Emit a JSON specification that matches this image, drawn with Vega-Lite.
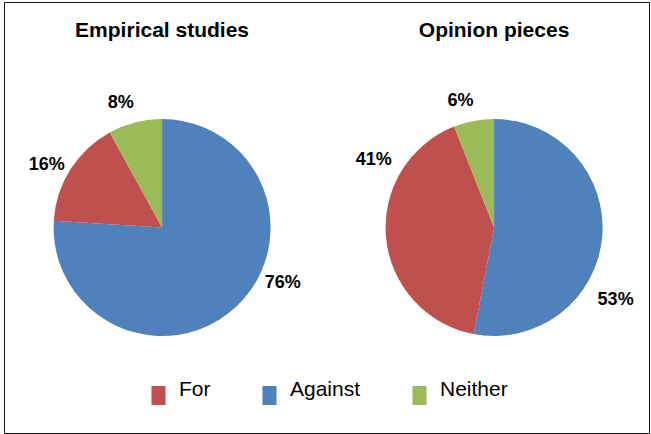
{
  "$schema": "https://vega.github.io/schema/vega-lite/v6.json",
  "width": 651,
  "height": 434,
  "autosize": {"type": "fit", "contains": "padding"},
  "padding": {"left": 4, "top": 2, "right": 2, "bottom": 1},
  "background": "white",
  "config": {
    "view": {"stroke": "#111111", "strokeWidth": 1},
    "font": "Liberation Sans"
  },
  "encoding": {
    "x": {
      "field": "chart",
      "type": "nominal",
      "scale": {"type": "point", "domain": ["Empirical studies", "Opinion pieces"], "padding": 0.4714, "align": 0.505},
      "axis": null
    }
  },
  "layer": [
    {
      "data": {"values": [{"chart": "Empirical studies"}, {"chart": "Opinion pieces"}]},
      "mark": {"type": "text", "font": "Liberation Sans", "fontWeight": "bold", "fontSize": 21, "baseline": "alphabetic", "align": "center", "color": "#000000"},
      "encoding": {
        "y": {"value": 35},
        "text": {"field": "chart", "type": "nominal"}
      }
    },
    {
      "data": {
        "values": [
          {"chart": "Empirical studies", "cat": "Against", "value": 0.76},
          {"chart": "Empirical studies", "cat": "For", "value": 0.16},
          {"chart": "Empirical studies", "cat": "Neither", "value": 0.08},
          {"chart": "Opinion pieces", "cat": "Against", "value": 0.53},
          {"chart": "Opinion pieces", "cat": "For", "value": 0.41},
          {"chart": "Opinion pieces", "cat": "Neither", "value": 0.06}
        ]
      },
      "transform": [
        {"stack": "value", "groupby": ["chart"], "sort": [{"field": "cat", "order": "ascending"}], "as": ["v0", "v1"], "offset": "normalize"},
        {"calculate": "(datum.v0 + datum.v1) / 2", "as": "mid"}
      ],
      "encoding": {
        "y": {"value": 225.5}
      },
      "layer": [
        {
          "mark": {"type": "arc", "radius": 108.5},
          "encoding": {
            "theta": {"field": "v0", "type": "quantitative", "stack": null, "scale": {"domain": [0, 1], "range": [0, 6.283185307179586]}},
            "theta2": {"field": "v1"},
            "color": {
              "field": "cat",
              "type": "nominal",
              "scale": {"domain": ["For", "Against", "Neither"], "range": ["#C0504D", "#4F81BD", "#9BBB59"]},
              "legend": {
                "title": null,
                "orient": "none",
                "legendX": 144,
                "legendY": 383,
                "direction": "horizontal",
                "padding": 0,
                "symbolType": "M-0.74,-1H0.74V1H-0.74Z",
                "symbolSize": 361,
                "symbolStrokeWidth": 0,
                "labelFont": "Liberation Sans",
                "labelFontSize": 21,
                "labelColor": "#000000",
                "labelBaseline": "alphabetic",
                "labelOffset": 10,
                "columnPadding": 48,
                "labelLimit": 200
              }
            }
          }
        },
        {
          "transform": [{"filter": "datum.cat === 'Neither' || (datum.chart === 'Empirical studies' && datum.cat === 'For')"}],
          "mark": {"type": "text", "radius": 131, "thetaOffset": -0.07, "font": "Liberation Sans", "fontWeight": "bold", "fontSize": 18, "align": "center", "baseline": "middle", "color": "#000000"},
          "encoding": {
            "theta": {"field": "mid", "type": "quantitative", "stack": null, "scale": {"domain": [0, 1], "range": [0, 6.283185307179586]}},
            "text": {"field": "value", "type": "quantitative", "format": ".0%"}
          }
        },
        {
          "transform": [{"filter": "datum.chart === 'Empirical studies' && datum.cat === 'Against'"}],
          "mark": {"type": "text", "radius": 133, "thetaOffset": -0.384, "font": "Liberation Sans", "fontWeight": "bold", "fontSize": 18, "align": "center", "baseline": "middle", "color": "#000000"},
          "encoding": {
            "theta": {"field": "mid", "type": "quantitative", "stack": null, "scale": {"domain": [0, 1], "range": [0, 6.283185307179586]}},
            "text": {"field": "value", "type": "quantitative", "format": ".0%"}
          }
        },
        {
          "transform": [{"filter": "datum.chart === 'Opinion pieces' && datum.cat === 'For'"}],
          "mark": {"type": "text", "radius": 138, "thetaOffset": 0.606, "font": "Liberation Sans", "fontWeight": "bold", "fontSize": 18, "align": "center", "baseline": "middle", "color": "#000000"},
          "encoding": {
            "theta": {"field": "mid", "type": "quantitative", "stack": null, "scale": {"domain": [0, 1], "range": [0, 6.283185307179586]}},
            "text": {"field": "value", "type": "quantitative", "format": ".0%"}
          }
        },
        {
          "transform": [{"filter": "datum.chart === 'Opinion pieces' && datum.cat === 'Against'"}],
          "mark": {"type": "text", "radius": 141.5, "thetaOffset": 0.443, "font": "Liberation Sans", "fontWeight": "bold", "fontSize": 18, "align": "center", "baseline": "middle", "color": "#000000"},
          "encoding": {
            "theta": {"field": "mid", "type": "quantitative", "stack": null, "scale": {"domain": [0, 1], "range": [0, 6.283185307179586]}},
            "text": {"field": "value", "type": "quantitative", "format": ".0%"}
          }
        }
      ]
    }
  ]
}
